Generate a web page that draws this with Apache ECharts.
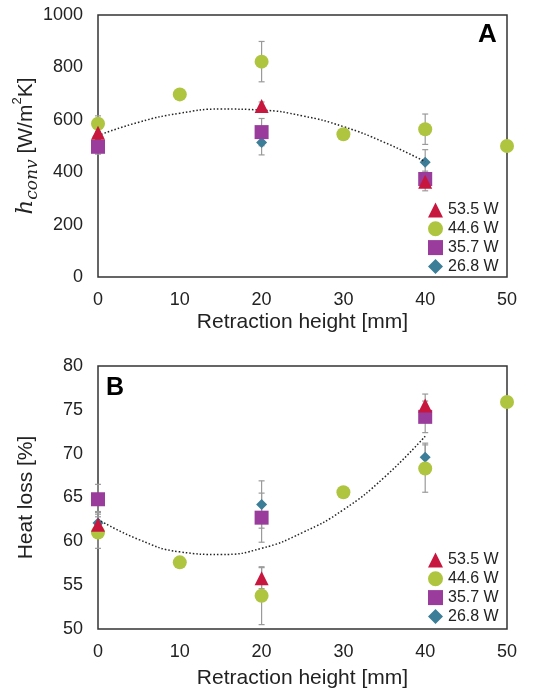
<!DOCTYPE html>
<html>
<head>
<meta charset="utf-8">
<script src="https://cdn.jsdelivr.net/npm/echarts@6/dist/echarts.min.js"></script>
<style>
  html, body { margin: 0; padding: 0; background: #fff; }
  #main { width: 555px; height: 693px; }
</style>
</head>
<body>
<div id="main"></div>
<script>
const heights = [0, 10, 20, 30, 40, 50]
const seriesNames = ['53.5 W', '44.6 W', '35.7 W', '26.8 W']
const xTicks = [0, 10, 20, 30, 40, 50]

// panel A: h_conv [W/m2K]  -> [x, y, error]
const hA_535 = [[0, 551, 15], [20, 653, 15], [40, 364, 35]]
const hA_446 = [[0, 585, 30], [10, 697, 0], [20, 822, 77], [30, 545, 0], [40, 564, 58], [50, 500, 0]]
const hA_357 = [[0, 497, 28], [20, 553, 52], [40, 374, 30]]
const hA_268 = [[0, 535, 20], [20, 513, 47], [40, 438, 48]]
const trendA = [[0, 540], [5, 591], [10, 625], [15, 641], [20, 637], [25, 615], [30, 574], [35, 514], [40, 440]]
const yTicksA = [0, 200, 400, 600, 800, 1000]

// panel B: heat loss [%]
const hB_535 = [[0, 61.9, 1.5], [20, 55.8, 1.2], [40, 75.5, 1.3]]
const hB_446 = [[0, 61.0, 1.8], [10, 57.6, 0], [20, 53.8, 3.3], [30, 65.6, 0], [40, 68.3, 2.7], [50, 75.9, 0]]
const hB_357 = [[0, 64.8, 1.7], [20, 62.7, 2.8], [40, 74.2, 1.8]]
const hB_268 = [[0, 62.1, 1.2], [20, 64.2, 2.7], [40, 69.6, 1.6]]
const trendB = [[0, 62.5], [5, 60.2], [10, 58.8], [15, 58.5], [20, 59.2], [25, 61.0], [30, 63.6], [35, 67.3], [40, 72.0]]
const yTicksB = [50, 55, 60, 65, 70, 75, 80]

const colors = ['#C8173F', '#AFC540', '#993C9B', '#3C7E98']
const symbols = ['triangle', 'circle', 'rect', 'diamond']
const sizes = [14, 14, 14, 11]
const font = 'Liberation Sans, Arial, sans-serif'

var myChart = echarts.init(document.getElementById('main'))

function errorBars(data, idx) {
  return {
    type: 'custom',
    xAxisIndex: idx, yAxisIndex: idx,
    silent: true,
    z: 1,
    data: data.filter(d => d[2] > 0),
    renderItem: function (params, api) {
      var x = api.value(0), y = api.value(1), e = api.value(2)
      var hi = api.coord([x, y + e])
      var lo = api.coord([x, y - e])
      var s = { stroke: '#9a9a9a', lineWidth: 1.2 }
      return {
        type: 'group',
        children: [
          { type: 'line', shape: { x1: hi[0], y1: hi[1], x2: lo[0], y2: lo[1] }, style: s },
          { type: 'line', shape: { x1: hi[0] - 3, y1: hi[1], x2: hi[0] + 3, y2: hi[1] }, style: s },
          { type: 'line', shape: { x1: lo[0] - 3, y1: lo[1], x2: lo[0] + 3, y2: lo[1] }, style: s }
        ]
      }
    }
  }
}

function scatter(name, data, i, idx) {
  return {
    name: name,
    type: 'scatter',
    xAxisIndex: idx, yAxisIndex: idx,
    symbol: symbols[i],
    symbolSize: sizes[i],
    itemStyle: { color: colors[i], opacity: 1 },
    z: 5 - i,
    data: data.map(d => [d[0], d[1]])
  }
}

function trend(data, idx) {
  return {
    type: 'line',
    xAxisIndex: idx, yAxisIndex: idx,
    smooth: true,
    symbol: 'none',
    silent: true,
    z: 3,
    lineStyle: { color: '#222', width: 1.5, type: [1.5, 2] },
    data: data
  }
}

function xAxis(idx) {
  return {
    type: 'value',
    gridIndex: idx,
    min: 0, max: 50, interval: 10,
    name: 'Retraction height [mm]',
    nameLocation: 'middle',
    nameGap: idx === 0 ? 35 : 39,
    nameMoveOverlap: false,
    nameTextStyle: { fontFamily: font, fontSize: 21, color: '#222' },
    axisLine: { show: false },
    axisTick: { show: false },
    splitLine: { show: false },
    axisLabel: { fontFamily: font, fontSize: 18, color: '#222', margin: 14 }
  }
}

var legendText = { fontFamily: font, fontSize: 16, color: '#222' }

var option = {
  animation: false,
  grid: [
    { left: 98, top: 15, width: 409, height: 262, show: true, borderColor: '#333', borderWidth: 1.5, outerBoundsMode: 'none', containLabel: false },
    { left: 98, top: 366, width: 409, height: 263, show: true, borderColor: '#333', borderWidth: 1.5, outerBoundsMode: 'none', containLabel: false }
  ],
  xAxis: [xAxis(0), xAxis(1)],
  yAxis: [
    {
      type: 'value', gridIndex: 0,
      min: yTicksA[0], max: yTicksA[yTicksA.length - 1], interval: 200,
      name: '{i|h}{s|conv} [W/m{p|2}K]',
      nameLocation: 'middle', nameGap: 57, nameRotate: 90,
      nameMoveOverlap: false,
      nameTextStyle: {
        fontFamily: font, fontSize: 21, color: '#222',
        rich: {
          i: { fontFamily: 'DejaVu Serif', fontStyle: 'italic', fontSize: 23, color: '#222' },
          s: { fontFamily: 'DejaVu Serif', fontStyle: 'italic', fontSize: 17, color: '#222', verticalAlign: 'bottom', lineHeight: 30 },
          p: { fontFamily: font, fontSize: 13, color: '#222', verticalAlign: 'top', lineHeight: 30 }
        }
      },
      axisLine: { show: false }, axisTick: { show: false }, splitLine: { show: false },
      axisLabel: { fontFamily: font, fontSize: 18, color: '#222', margin: 15, formatter: v => String(v) }
    },
    {
      type: 'value', gridIndex: 1,
      min: yTicksB[0], max: yTicksB[yTicksB.length - 1], interval: 5,
      name: 'Heat loss [%]',
      nameLocation: 'middle', nameGap: 61, nameRotate: 90,
      nameMoveOverlap: false,
      nameTextStyle: { fontFamily: font, fontSize: 21, color: '#222' },
      axisLine: { show: false }, axisTick: { show: false }, splitLine: { show: false },
      axisLabel: { fontFamily: font, fontSize: 18, color: '#222', margin: 15 }
    }
  ],
  legend: [
    {
      data: seriesNames.map((n, i) => ({ name: n, icon: symbols[i] })),
      orient: 'vertical', left: 423, top: 197,
      itemWidth: 15, itemHeight: 15, itemGap: 2.8,
      textStyle: legendText, selectedMode: false
    },
    {
      data: seriesNames.map((n, i) => ({ name: n, icon: symbols[i] })),
      orient: 'vertical', left: 423, top: 547,
      itemWidth: 15, itemHeight: 15, itemGap: 2.8,
      textStyle: legendText, selectedMode: false
    }
  ],
  graphic: [
    { type: 'text', left: 478, top: 22, style: { text: 'A', fontFamily: font, fontWeight: 'bold', fontSize: 26, fill: '#000' } },
    { type: 'text', left: 106, top: 376, style: { text: 'B', fontFamily: font, fontWeight: 'bold', fontSize: 25, fill: '#000' } }
  ],
  series: [
    errorBars(hA_535, 0), errorBars(hA_446, 0), errorBars(hA_357, 0), errorBars(hA_268, 0),
    trend(trendA, 0),
    scatter(seriesNames[3], hA_268, 3, 0),
    scatter(seriesNames[2], hA_357, 2, 0),
    scatter(seriesNames[1], hA_446, 1, 0),
    scatter(seriesNames[0], hA_535, 0, 0),
    errorBars(hB_535, 1), errorBars(hB_446, 1), errorBars(hB_357, 1), errorBars(hB_268, 1),
    trend(trendB, 1),
    scatter(seriesNames[3], hB_268, 3, 1),
    scatter(seriesNames[2], hB_357, 2, 1),
    scatter(seriesNames[0], hB_535, 0, 1),
    scatter(seriesNames[1], hB_446, 1, 1)
  ]
}

myChart.setOption(option)
</script>
</body>
</html>
